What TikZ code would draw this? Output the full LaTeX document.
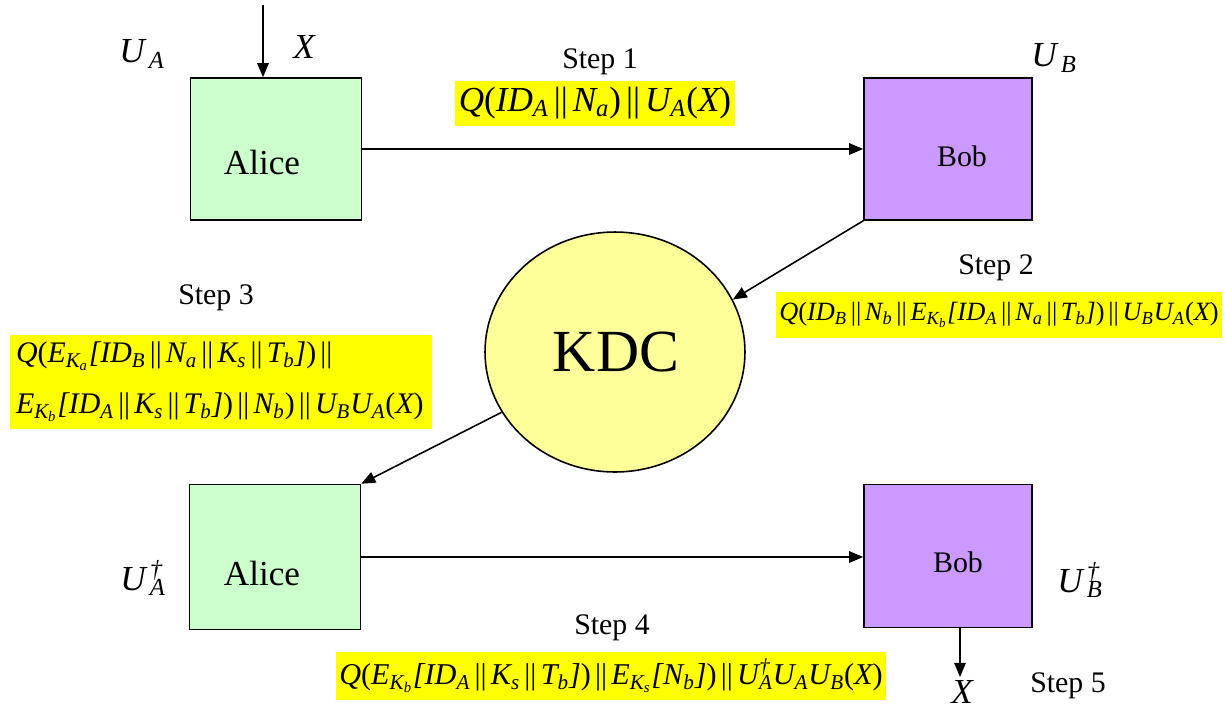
\documentclass[tikz,border=0pt]{standalone}
\usepackage{fontspec}
\setmainfont{Liberation Serif}
\usetikzlibrary{arrows.meta,shapes.geometric}
\definecolor{agreen}{HTML}{CCFFCC}
\definecolor{bpurple}{HTML}{CC99FF}
\definecolor{kyellow}{HTML}{FFFF99}
\definecolor{hyellow}{HTML}{FFFF00}
\newcommand{\cc}{\hspace{0.14em}{\upshape||}\hspace{0.14em}}
\newcommand{\ssb}[1]{\textsubscript{#1}}
\newcommand{\ssbsup}[2]{\makebox[0pt][l]{\textsuperscript{#1}}\textsubscript{#2}}
\newcommand{\lp}{{\upshape(}}
\newcommand{\rp}{{\upshape)}}
\tikzset{
  x=0.02cm, y=-0.02cm,
  every node/.style={font=\rmfamily},
  abox/.style={draw=black, line width=0.9pt, fill=agreen, minimum width=3.42cm, minimum height=2.84cm, inner sep=0pt},
  bbox/.style={draw=black, line width=0.9pt, fill=bpurple, minimum width=3.36cm, minimum height=2.84cm, inner sep=0pt},
  msg/.style={fill=hyellow, inner sep=0pt, anchor=center},
  lbl/.style={inner sep=0pt, font=\rmfamily\fontsize{17}{20}\selectfont},
  ilbl/.style={inner sep=0pt, font=\rmfamily\itshape\fontsize{20}{24}\selectfont},
  arr/.style={line width=0.9pt, -{Triangle[length=8pt,width=6.5pt]}},
}
\begin{document}
\begin{tikzpicture}
\useasboundingbox (0,0) rectangle (1225,711);
% boxes
\node[abox] (A1) at (276,149) {};
\node[font=\rmfamily\fontsize{20}{24}\selectfont] (A1t) at (262,162) {Alice};
\node[bbox] (B1) at (948,149) {};
\node[font=\rmfamily\fontsize{17}{20}\selectfont] (B1t) at (962,156) {Bob};
\node[abox, minimum height=2.9cm] (A2) at (275,557) {};
\node[font=\rmfamily\fontsize{20}{24}\selectfont] (A2t) at (262,573) {Alice};
\node[bbox, minimum height=2.86cm] (B2) at (948,556) {};
\node[font=\rmfamily\fontsize{17}{20}\selectfont] (B2t) at (958,562) {Bob};
\node[ellipse, draw=black, line width=0.9pt, fill=kyellow, minimum width=5.2cm, minimum height=4.8cm, inner sep=0pt] (K) at (615,352) {};
\node[font=\rmfamily\fontsize{34}{40}\selectfont] (Kt) at (616,352) {KDC};
% side labels
\node[ilbl] (UA) at (142,54) {U\ssb{\,A}};
\node[ilbl] (X0) at (304,47) {X};
\node[ilbl] (UB) at (1054,58) {U\ssb{\,B}};
\node[ilbl] (UAd) at (143,578) {U\ssbsup{\,†}{\,A}};
\node[ilbl] (UBd) at (1080,580) {U\ssbsup{\,†}{\,B}};
\node[ilbl] (X5) at (962,692) {X};
% step labels
\node[lbl] (S1) at (600,62) {Step 1};
\node[lbl] (S2) at (996,268) {Step 2};
\node[lbl] (S3) at (216,298) {Step 3};
\node[lbl] (S4) at (612,628) {Step 4};
\node[lbl] (S5) at (1068,686) {Step 5};
% messages
\node[msg, minimum width=5.62cm, minimum height=0.9cm, font=\rmfamily\itshape\fontsize{20}{24}\selectfont] (M1) at (595,103)
  {Q\lp ID\ssb{A}\cc N\ssb{a}\rp\cc U\ssb{A}\lp X\rp};
\node[msg, minimum width=8.92cm, minimum height=0.92cm, font=\rmfamily\itshape\fontsize{15}{18}\selectfont] (M2) at (999,315)
  {Q\lp ID\ssb{B}\cc N\ssb{b}\cc E\ssb{K\ssb{b}}[ID\ssb{A}\cc N\ssb{a}\cc T\ssb{b}]\rp\cc U\ssb{B}U\ssb{A}\lp X\rp};
\node[msg, minimum width=8.44cm, minimum height=1.9cm, text width=8.2cm, align=left, font=\rmfamily\itshape\fontsize{17}{20}\selectfont] (M3) at (221,382)
  {Q\lp E\ssb{K\ssb{a}}[ID\ssb{B}\cc N\ssb{a}\cc K\ssb{s}\cc T\ssb{b}]\rp\cc\\[9pt]E\ssb{K\ssb{b}}[ID\ssb{A}\cc K\ssb{s}\cc T\ssb{b}]\rp\cc N\ssb{b}\rp\cc U\ssb{B}U\ssb{A}\lp X\rp};
\node[msg, minimum width=11.02cm, minimum height=0.96cm, font=\rmfamily\itshape\fontsize{17.2}{20}\selectfont] (M4) at (611,676)
  {Q\lp E\ssb{K\ssb{b}}[ID\ssb{A}\cc K\ssb{s}\cc T\ssb{b}]\rp\cc E\ssb{K\ssb{s}}[N\ssb{b}]\rp\cc U\ssbsup{†}{A}U\ssb{A}U\ssb{B}\lp X\rp};
% connectors
\coordinate (in0) at (263,5);
\coordinate (out5) at (960,677);
\draw[arr] (in0) -- (in0 |- A1.north);
\draw[arr] (A1.east) -- (A1.east -| B1.west);
\draw[arr] (B1.south west) -- (K.24);
\draw[arr] (K.208) -- (A2.north east);
\draw[arr] (A2.east) -- (A2.east -| B2.west);
\draw[arr] (B2.south -| out5) -- (out5);
\end{tikzpicture}
\end{document}
